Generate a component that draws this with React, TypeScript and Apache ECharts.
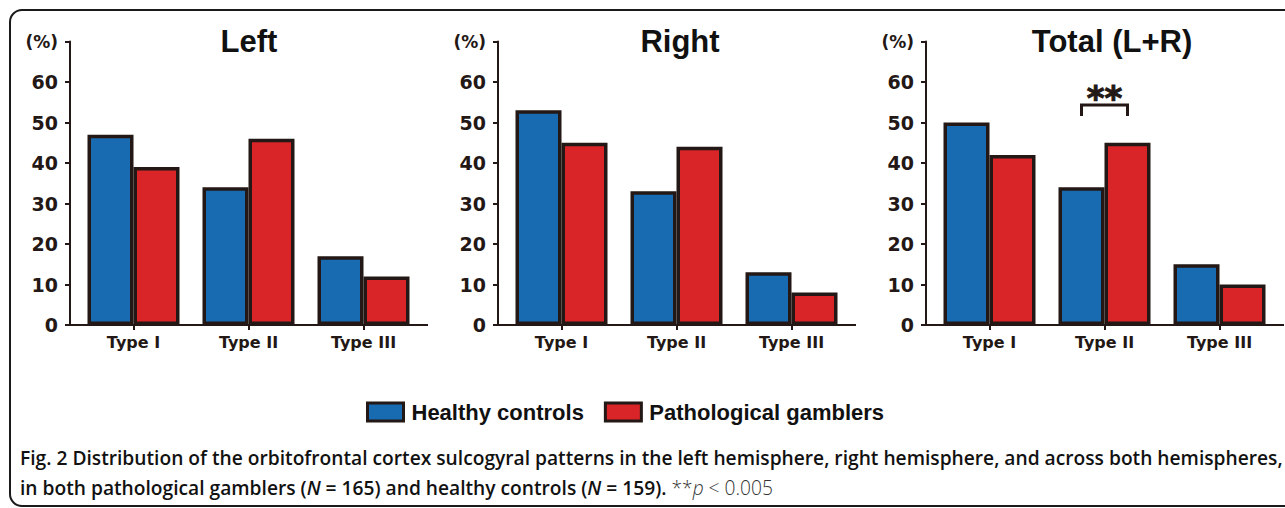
import React, { useEffect, useRef } from "react";
import * as echarts from "echarts";

const categories = ["Type I", "Type II", "Type III"];
const panelTitles = ["Left", "Right", "Total (L+R)"];
const seriesNames = ["Healthy controls", "Pathological gamblers"];
const leftHealthy = [47, 34, 17];
const leftGamblers = [39, 46, 12];
const rightHealthy = [53, 33, 13];
const rightGamblers = [45, 44, 8];
const totalHealthy = [50, 34, 15];
const totalGamblers = [42, 45, 10];
const yTicks = [0, 10, 20, 30, 40, 50, 60, 70];

const BLUE = "#196bb1";
const RED = "#d92528";
const INK = "#231815";

export default function App() {
  const ref = useRef<HTMLDivElement>(null);
  useEffect(() => {
    if (!ref.current) return;
    const chart = echarts.init(ref.current, undefined, { renderer: "svg" });
    const axisXs = [70, 498, 926];
    const gridTop = 41.5;
    const gridBottomY = 325;
    const gridW = 345;
    const data = [
      [leftHealthy, leftGamblers],
      [rightHealthy, rightGamblers],
      [totalHealthy, totalGamblers],
    ];
    const grids = axisXs.map((ax) => ({
      left: ax + 6,
      top: gridTop,
      width: gridW,
      height: gridBottomY - gridTop,
    }));
    const xAxes = axisXs.map((_, i) => ({
      type: "category",
      gridIndex: i,
      data: categories,
      axisLine: { show: false },
      axisTick: { show: true, alignWithLabel: true, length: 5, lineStyle: { color: INK, width: 2 } },
      axisLabel: {
        margin: 9,
        color: INK,
        fontSize: 16,
        fontWeight: "bold",
        fontFamily: "DejaVu Sans",
      },
    }));
    const yAxes = axisXs.map((_, i) => ({
      type: "value",
      gridIndex: i,
      min: yTicks[0],
      max: yTicks[yTicks.length - 1],
      interval: 10,
      offset: 6,
      splitLine: { show: false },
      axisLine: { show: true, lineStyle: { color: INK, width: 2 } },
      axisTick: { show: true, length: 5, lineStyle: { color: INK, width: 2 } },
      axisLabel: {
        margin: 12,
        color: INK,
        fontSize: 19,
        fontWeight: "bold",
        fontFamily: "DejaVu Sans",
        formatter: (v: number) => (v === 70 ? "{p|(%)}" : String(v)),
        rich: {
          p: { fontSize: 17, fontWeight: "bold", fontFamily: "DejaVu Sans", color: INK },
        },
      },
    }));
    const series: any[] = [];
    data.forEach((pair, i) => {
      pair.forEach((vals, j) => {
        series.push({
          type: "bar",
          name: seriesNames[j],
          xAxisIndex: i,
          yAxisIndex: i,
          data: vals,
          barWidth: 46,
          barGap: "0%",
          itemStyle: { color: j === 0 ? BLUE : RED, borderColor: INK, borderWidth: 3.5 },
        });
      });
    });

    const titleXs = [249, 680, 1112];
    const graphic: any[] = [
      {
        type: "rect",
        shape: { x: 10, y: 10, width: 1420, height: 496, r: 12 },
        style: { fill: "none", stroke: "#1a1a1a", lineWidth: 2 },
        silent: true,
      },
    ];
    titleXs.forEach((x, i) => {
      graphic.push({
        type: "text",
        x,
        y: 41,
        style: {
          text: panelTitles[i],
          fontSize: 31,
          fontWeight: "bold",
          fontFamily: "Liberation Sans, Arial, sans-serif",
          fill: "#111",
          align: "center",
          verticalAlign: "middle",
        },
      });
    });
    axisXs.forEach((ax) => {
      graphic.push({
        type: "line",
        shape: { x1: ax - 1, y1: gridBottomY, x2: ax + 358, y2: gridBottomY },
        style: { stroke: INK, lineWidth: 2 },
        z: 0,
      });
    });
    // significance bracket over Type II in Total panel
    const tAx = axisXs[2] + 6;
    const catW = gridW / categories.length;
    const c2 = tAx + catW * 1.5;
    const bx1 = c2 - 23;
    const bx2 = c2 + 23;
    graphic.push({
      type: "polyline",
      shape: { points: [[bx1, 116], [bx1, 105], [bx2, 105], [bx2, 116]] },
      style: { stroke: INK, lineWidth: 3, fill: "none" },
    });
    graphic.push({
      type: "text",
      x: c2,
      y: 98,
      style: {
        text: "**",
        fontSize: 34,
        fontWeight: "bold",
        fontFamily: "DejaVu Sans",
        fill: INK,
        stroke: INK,
        lineWidth: 1,
        align: "center",
        verticalAlign: "middle",
      },
    });
    const capFont = "Open Sans, Noto Sans, sans-serif";
    const capSize = 19.2;
    graphic.push({
      type: "text",
      x: 20,
      y: 457,
      style: {
        text: "Fig. 2 Distribution of the orbitofrontal cortex sulcogyral patterns in the left hemisphere, right hemisphere, and across both hemispheres,",
        fontSize: capSize,
        fontWeight: 600,
        fontFamily: capFont,
        fill: "#111",
        verticalAlign: "middle",
      },
    });
    graphic.push({
      type: "text",
      x: 20,
      y: 487,
      style: {
        text:
          "{b|in both pathological gamblers (}{bi|N}{b| = 165) and healthy controls (}{bi|N}{b| = 159). }{n|**}{ni|p}{n| < 0.005}",
        verticalAlign: "middle",
        fill: "#111",
        rich: {
          b: { fontSize: capSize, fontWeight: 600, fontFamily: capFont, fill: "#111" },
          bi: { fontSize: capSize, fontWeight: 600, fontStyle: "italic", fontFamily: capFont, fill: "#111" },
          n: { fontSize: capSize, fontWeight: 300, fontFamily: capFont, fill: "#333" },
          ni: { fontSize: capSize, fontWeight: 300, fontStyle: "italic", fontFamily: capFont, fill: "#333" },
        },
      },
    });

    chart.setOption({
      animation: false,
      backgroundColor: "#ffffff",
      grid: grids,
      xAxis: xAxes,
      yAxis: yAxes,
      series,
      legend: {
        data: seriesNames,
        left: 366,
        top: 401,
        padding: 0,
        itemWidth: 36,
        itemHeight: 18,
        itemGap: 20,
        icon: "rect",
        itemStyle: { borderColor: INK, borderWidth: 3 },
        textStyle: {
          fontSize: 22,
          fontWeight: "bold",
          fontFamily: "Liberation Sans, Arial, sans-serif",
          color: "#111",
          padding: [0, 0, 0, 3],
        },
      },
      graphic,
    });
    return () => chart.dispose();
  }, []);
  return (
    <div
      ref={ref}
      style={{ position: "fixed", left: 0, top: 0, width: 1285, height: 508 }}
    />
  );
}
